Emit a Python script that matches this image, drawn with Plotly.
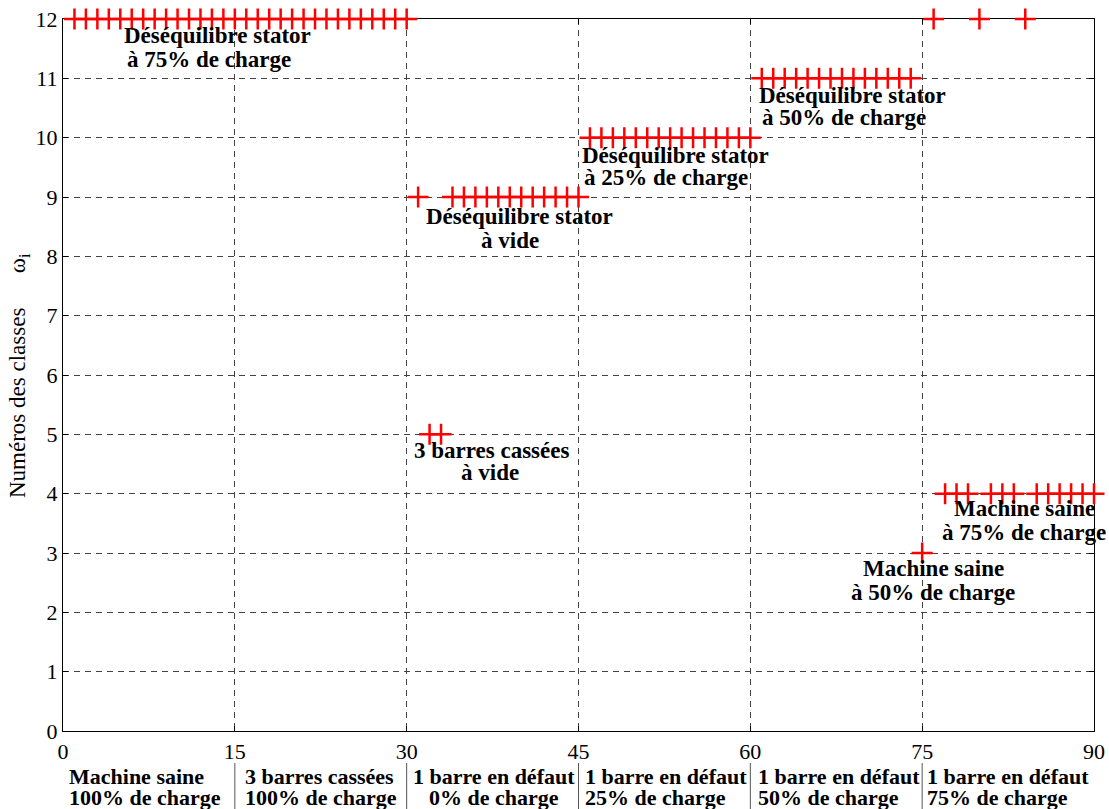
import plotly.graph_objects as go

# ---------------- data ----------------
samples = [
    1, 2, 3, 4, 5, 6, 7, 8, 9, 10, 11, 12, 13, 14, 15,
    16, 17, 18, 19, 20, 21, 22, 23, 24, 25, 26, 27, 28, 29, 30,
    31, 32, 33, 34, 35, 36, 37, 38, 39, 40, 41, 42, 43, 44, 45,
    46, 47, 48, 49, 50, 51, 52, 53, 54, 55, 56, 57, 58, 59, 60,
    61, 62, 63, 64, 65, 66, 67, 68, 69, 70, 71, 72, 73, 74, 75,
    76, 77, 78, 79, 80, 81, 82, 83, 84, 85, 86, 87, 88, 89, 90,
]
assigned_class = [
    12, 12, 12, 12, 12, 12, 12, 12, 12, 12, 12, 12, 12, 12, 12,
    12, 12, 12, 12, 12, 12, 12, 12, 12, 12, 12, 12, 12, 12, 12,
    9, 5, 5, 9, 9, 9, 9, 9, 9, 9, 9, 9, 9, 9, 9,
    10, 10, 10, 10, 10, 10, 10, 10, 10, 10, 10, 10, 10, 10, 10,
    11, 11, 11, 11, 11, 11, 11, 11, 11, 11, 11, 11, 11, 11, 3,
    12, 4, 4, 4, 12, 4, 4, 4, 12, 4, 4, 4, 4, 4, 4,
]
x_ticks = [0, 15, 30, 45, 60, 75, 90]
y_ticks = [0, 1, 2, 3, 4, 5, 6, 7, 8, 9, 10, 11, 12]
y_title = "Numéros des classes"
group_labels = [
    ("Machine saine", "100% de charge"),
    ("3 barres cassées", "100% de charge"),
    ("1 barre en défaut", "0% de charge"),
    ("1 barre en défaut", "25% de charge"),
    ("1 barre en défaut", "50% de charge"),
    ("1 barre en défaut", "75% de charge"),
]
cluster_labels = [
    ("Déséquilibre stator", "à 75% de charge"),
    ("Déséquilibre stator", "à vide"),
    ("Déséquilibre stator", "à 25% de charge"),
    ("Déséquilibre stator", "à 50% de charge"),
    ("3 barres cassées", "à vide"),
    ("Machine saine", "à 75% de charge"),
    ("Machine saine", "à 50% de charge"),
]

# ---------------- layout helpers ----------------
W, H = 1109, 809
PL, PR, PT, PB = 63, 1094, 19, 731


def px(xp):
    return (xp - PL) / (PR - PL)


def py(yp):
    return (PB - yp) / (PB - PT)


FONT = "Liberation Serif, Times New Roman, serif"

fig = go.Figure()
fig.add_trace(go.Scatter(
    x=samples, y=assigned_class, mode="markers",
    marker=dict(symbol="cross-thin", size=15, color="#ff0000",
                line=dict(color="#ff0000", width=2.5)),
    cliponaxis=False, showlegend=False, hoverinfo="x+y",
))

annotations = []
# cluster labels: (line1 center x, line1 y, line2 center x, line2 y)
cluster_pos = [
    (217.5, 36, 208.5, 60),
    (519.5, 216, 509.5, 240),
    (675.5, 155, 665.5, 178),
    (852.5, 95, 844, 118),
    (491, 450, 489.5, 473),
    (1024.5, 508, 1023.5, 532),
    (933.5, 568, 932.5, 592),
]
for (l1, l2), (x1, y1, x2, y2) in zip(cluster_labels, cluster_pos):
    for txt, xx, yy in ((l1, x1, y1), (l2, x2, y2)):
        annotations.append(dict(
            text="<b>%s</b>" % txt, x=px(xx), y=py(yy), xref="paper", yref="paper",
            xanchor="center", yanchor="middle", showarrow=False,
            font=dict(family=FONT, size=23, color="black"),
        ))

# group labels below the x axis
group_pos = [
    (("left", 67), ("left", 67)),
    (("left", 243), ("left", 243)),
    (("left", 411), ("center", 494)),
    (("left", 583), ("left", 583)),
    (("left", 756), ("left", 756)),
    (("left", 925), ("left", 925)),
]
for (l1, l2), (p1, p2) in zip(group_labels, group_pos):
    for txt, (anc, xx), yy in ((l1, p1, 776), (l2, p2, 797)):
        annotations.append(dict(
            text="<b>%s</b>" % txt, x=px(xx), y=py(yy), xref="paper", yref="paper",
            xanchor=anc, yanchor="middle", showarrow=False,
            font=dict(family=FONT, size=22, color="black"),
        ))

# y-axis title
nb = "\u00a0" * 6
annotations.append(dict(
    text=y_title + nb + "ω<sub>i</sub>", x=px(19), y=py(376),
    xref="paper", yref="paper", xanchor="center", yanchor="middle",
    textangle=-90, showarrow=False,
    font=dict(family=FONT, size=23, color="black"),
))

shapes = []
for xv in x_ticks[1:-1]:
    shapes.append(dict(type="line", xref="x", yref="paper", x0=xv, x1=xv,
                       y0=py(763), y1=py(809), line=dict(color="#555555", width=1)))

axis_common = dict(
    showline=True, linecolor="black", linewidth=1.2, mirror="ticks",
    ticks="inside", ticklen=5, tickcolor="black", tickwidth=1,
    showgrid=True, gridcolor="#444444", gridwidth=1, griddash="6px,5px",
    zeroline=False, layer="below traces",
    tickfont=dict(family=FONT, size=22, color="black"),
)

fig.update_layout(
    width=W, height=H,
    margin=dict(l=PL, r=W - PR, t=PT, b=H - PB, autoexpand=False),
    paper_bgcolor="white", plot_bgcolor="white",
    xaxis=dict(range=[0, 90], tickvals=x_ticks, ticktext=[str(v) for v in x_ticks],
               automargin=False, **axis_common),
    yaxis=dict(range=[0, 12], tickvals=y_ticks, ticktext=[str(v) for v in y_ticks],
               automargin=False, **axis_common),
    annotations=annotations, shapes=shapes, showlegend=False,
)

fig.write_html(
    "out.html",
    config={"displayModeBar": False},
    post_script="document.body.style.margin='0px';document.body.style.padding='0px';"
                "document.body.style.overflow='hidden';",
)
